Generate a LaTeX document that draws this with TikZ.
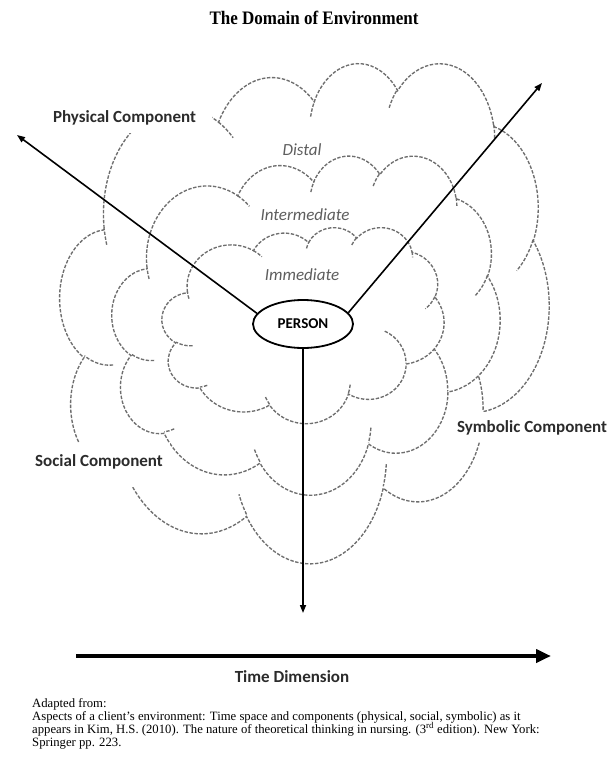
\documentclass[tikz,border=0pt]{standalone}
\usepackage{fontspec}
\setmainfont{Liberation Serif}
\newfontfamily\lblfont{Carlito}
\usetikzlibrary{arrows.meta,shapes.geometric}

\definecolor{cloudgray}{HTML}{6E6E6E}
\definecolor{labelgray}{HTML}{2B2B2B}
\definecolor{layergray}{HTML}{5E5E5E}

% Convert an arcTo given by visual start angle and sweep (degrees) on an
% ellipse with radii wR,hR into TikZ's parametric start angle and delta.
\newcommand\cldprep[6]{%
  \pgfmathsetmacro\cldtmpA{atan2((#3)*sin(#5),(#4)*cos(#5))}%
  \pgfmathsetmacro\cldtmpB{atan2((#3)*sin((#5)+(#6)),(#4)*cos((#5)+(#6)))}%
  \pgfmathsetmacro\cldtmpD{\cldtmpB-\cldtmpA}%
  \pgfmathsetmacro\cldtmpD{\cldtmpD+360*((#6)>0)*(\cldtmpD<0)-360*((#6)<0)*(\cldtmpD>0)}%
  \xdef#1{\cldtmpA}\xdef#2{\cldtmpD}}

% cloud lobes (shape space 0..432)
\cldprep\cldSa\cldDa{67.53}{91.90}{-190.48748}{123.78053}
\cldprep\cldSb\cldDb{53.33}{72.67}{-144.10238}{89.94523}
\cldprep\cldSc\cldDc{43.65}{59.45}{-145.80792}{99.72302}
\cldprep\cldSd\cldDd{48.57}{65.95}{-130.98607}{117.24173}
\cldprep\cldSe\cldDe{53.33}{72.73}{-78.70888}{109.02692}
\cldprep\cldSf\cldDf{67.75}{92.20}{-46.26725}{130.269}
\cldprep\cldSg\cldDg{57.85}{78.67}{0.62502}{114.03333}
\cldprep\cldSh\cldDh{67.52}{92.15}{22.4516}{115.17255}
\cldprep\cldSi\cldDi{77.20}{105.43}{66.24263}{75.71102}
\cldprep\cldSj\cldDj{43.60}{59.18}{-274.94208}{146.73557}
\cldprep\cldSk\cldDk{43.45}{59.45}{-246.8285}{152.51885}
% small inner hooks at the lobe joints
\cldprep\hkSa\hkDa{43.45}{59.45}{86.742}{26.4295}
\cldprep\hkSb\hkDb{43.60}{59.18}{73.61047}{11.44747}
\cldprep\hkSc\hkDc{67.52}{92.15}{137.62415}{14.0811}
\cldprep\hkSd\hkDd{67.52}{92.15}{6.45327}{15.99835}
\cldprep\hkSe\hkDe{57.85}{78.67}{-70.29235}{70.91737}
\cldprep\hkSf\hkDf{53.33}{72.73}{30.31803}{27.7515}
\cldprep\hkSg\hkDg{48.57}{65.95}{-13.74433}{14.8589}
\cldprep\hkSh\hkDh{48.57}{65.95}{-149.18145}{18.19537}
\cldprep\hkSi\hkDi{43.65}{59.45}{-163.49427}{17.68635}
\cldprep\hkSj\hkDj{67.53}{91.90}{-66.70695}{12.31935}
\cldprep\hkSk\hkDk{67.53}{91.90}{157.65435}{11.85817}

\newcommand\cloudoutline{%
  \draw[cloudline,fill=white] (39.00,143.70)
    arc[start angle=\cldSa,delta angle=\cldDa,x radius=67.53,y radius=91.90]
    arc[start angle=\cldSb,delta angle=\cldDb,x radius=53.33,y radius=72.67]
    arc[start angle=\cldSc,delta angle=\cldDc,x radius=43.65,y radius=59.45]
    arc[start angle=\cldSd,delta angle=\cldDd,x radius=48.57,y radius=65.95]
    arc[start angle=\cldSe,delta angle=\cldDe,x radius=53.33,y radius=72.73]
    arc[start angle=\cldSf,delta angle=\cldDf,x radius=67.75,y radius=92.20]
    arc[start angle=\cldSg,delta angle=\cldDg,x radius=57.85,y radius=78.67]
    arc[start angle=\cldSh,delta angle=\cldDh,x radius=67.52,y radius=92.15]
    arc[start angle=\cldSi,delta angle=\cldDi,x radius=77.20,y radius=105.43]
    arc[start angle=\cldSj,delta angle=\cldDj,x radius=43.60,y radius=59.18]
    arc[start angle=\cldSk,delta angle=\cldDk,x radius=43.45,y radius=59.45]
    -- cycle;
  \draw[cloudline]
    (46.93,261.77) arc[start angle=\hkSa,delta angle=\hkDa,x radius=43.45,y radius=59.45]
    (69.28,348.99) arc[start angle=\hkSb,delta angle=\hkDb,x radius=43.60,y radius=59.18]
    (164.78,390.90) arc[start angle=\hkSc,delta angle=\hkDc,x radius=67.52,y radius=92.15]
    (288.27,347.51) arc[start angle=\hkSd,delta angle=\hkDd,x radius=67.52,y radius=92.15]
    (341.29,229.54) arc[start angle=\hkSe,delta angle=\hkDe,x radius=57.85,y radius=78.67]
    (417.98,153.54) arc[start angle=\hkSf,delta angle=\hkDf,x radius=53.33,y radius=72.73]
    (383.24,54.26) arc[start angle=\hkSg,delta angle=\hkDg,x radius=48.57,y radius=65.95]
    (290.78,39.52) arc[start angle=\hkSh,delta angle=\hkDh,x radius=48.57,y radius=65.95]
    (221.41,47.20) arc[start angle=\hkSi,delta angle=\hkDi,x radius=43.65,y radius=59.45]
    (140.00,51.92) arc[start angle=\hkSj,delta angle=\hkDj,x radius=67.53,y radius=91.90]
    (41.27,157.89) arc[start angle=\hkSk,delta angle=\hkDk,x radius=67.53,y radius=91.90];
}

\tikzset{
  cloudline/.style={draw=cloudgray,line width=1.35pt,dash pattern=on 3.4pt off 1.6pt},
  complbl/.style={font=\lblfont\bfseries\fontsize{17}{20}\selectfont,text=labelgray,inner sep=0pt},
  layerlbl/.style={font=\lblfont\itshape\fontsize{17}{20}\selectfont,text=layergray,inner sep=0pt},
  spoke/.style={line width=1.6pt,-{Triangle[length=8pt,width=6pt]}},
  srcline/.style={anchor=base west,inner sep=0pt,font=\fontsize{12.7}{14}\selectfont}
}

\begin{document}
\begin{tikzpicture}[x=1pt,y=-1pt]
\fill[white] (0,0) rectangle (610,757);
\useasboundingbox (0,0) rectangle (610,757);

% three nested environment layers
\begin{scope}[shift={(60pt,-62pt)},x=1.131944pt,y=-1.157407pt]\cloudoutline\end{scope}
\begin{scope}[shift={(112pt,-155pt)},x=0.898148pt,y=-0.784722pt]\cloudoutline\end{scope}
\begin{scope}[shift={(162pt,-227pt)},x=0.652778pt,y=-0.453704pt]\cloudoutline\end{scope}

\node[layerlbl] (distal) at (302,150) {Distal};
\node[layerlbl] (intermediate) at (305,215) {Intermediate};
\node[layerlbl] (immediate) at (302,275) {Immediate};

% label backgrounds
\fill[white] (40,100) rectangle (212,133);
\fill[white] (28,443) rectangle (170,487);
\fill[white] (452,412) rectangle (610,442);

\node[complbl] (physical) at (124.5,118) {Physical Component};
\node[complbl] (social) at (99,462) {Social Component};
\node[complbl] (symbolic) at (532,428) {Symbolic Component};

\node[draw,ellipse,line width=1.8pt,minimum width=100pt,minimum height=48pt,inner sep=0pt,
      font=\lblfont\bfseries\fontsize{15}{17}\selectfont] (person) at (303,324) {PERSON};

\coordinate (physEnd) at (17,135);
\coordinate (symbEnd) at (542,83);
\coordinate (downEnd) at (303,613);
\draw[spoke] (person.167) -- (physEnd);
\draw[spoke] (person.14) -- (symbEnd);
\draw[spoke] (person.south) -- (downEnd);

% time axis
\coordinate (timeStart) at (76,656);
\coordinate (timeStop) at (551,656);
\draw[line width=4.5pt,-{Triangle[length=15pt,width=13pt]}] (timeStart) -- (timeStop);
\node[complbl] (timedim) at (292,677) {Time Dimension};

\node[font=\fontsize{17}{20}\selectfont\bfseries,inner sep=0pt] (title) at (314,18)
  {\scalebox{1}[1.12]{The Domain of Environment}};

\node[srcline] (src1) at (32,707) {Adapted from:};
\node[srcline] (src2) at (32,720) {Aspects of a client’s environment: Time space and components (physical, social, symbolic) as it};
\node[srcline] (src3) at (32,733) {appears in Kim, H.S. (2010). The nature of theoretical thinking in nursing. (3\textsuperscript{rd} edition). New York:};
\node[srcline] (src4) at (32,746) {Springer pp. 223.};
\end{tikzpicture}
\end{document}
